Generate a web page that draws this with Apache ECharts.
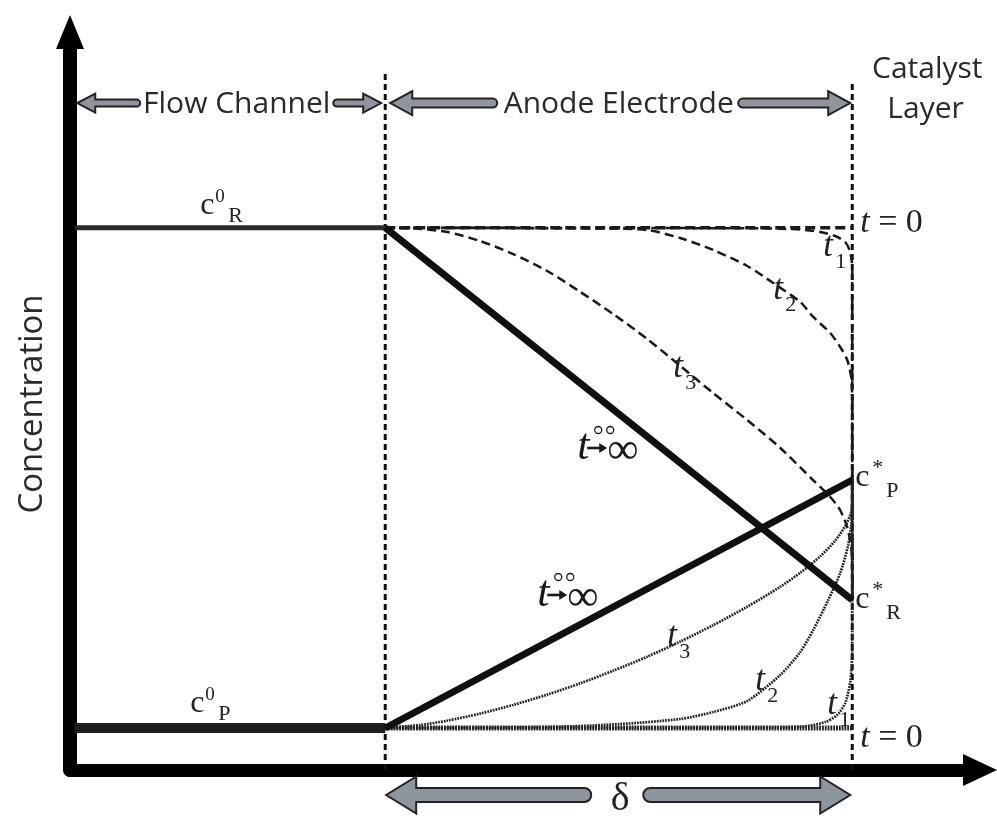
<!DOCTYPE html>
<html><head><meta charset="utf-8">
<script src="https://cdn.jsdelivr.net/npm/echarts@6/dist/echarts.min.js"></script>
<style>html,body{margin:0;padding:0;background:#fff}#c{width:997px;height:819px}</style>
</head><body><div id="c"></div>
<script>
// ---- DATA (depth: 0 = channel/electrode boundary, 1 = catalyst layer; concentration: c0_R = 100) ----
const flowR = [[-0.664, 100], [0, 100]];
const flowP = [[-0.664, 7.75], [0, 7.75]];
const boundaryLeft = [[0, 0], [0, 129.1]];
const boundaryRight = [[1, 0], [1, 127.25]];

const R_t0 = [[0, 100], [1, 100]];
const R_t1 = [[0, 100], [0.803, 99.9], [0.8887, 99.68], [0.9315, 99.22], [0.9636, 98.48], [0.985, 97.38], [0.9957, 95.53], [1, 92.58], [1, 31.35]];
const R_t2 = [[0, 100], [0.4604, 99.87], [0.561, 99.59], [0.6317, 98.11], [0.7024, 95.9], [0.7752, 92.95], [0.8308, 89.82], [0.8887, 86.31], [0.9165, 83.55], [0.9529, 80.6], [0.9743, 78.01], [0.9893, 75.61], [0.9979, 72.29], [1, 67.32], [1, 31.35]];
const R_t3 = [[0, 100], [0.075, 99.78], [0.133, 99.22], [0.203, 97.56], [0.274, 95.16], [0.347, 92.03], [0.418, 88.16], [0.488, 84.1], [0.561, 79.49], [0.632, 74.51], [0.702, 69.53], [0.775, 64.55], [0.846, 59.39], [0.916, 53.48], [0.953, 50.35], [0.974, 47.95], [0.989, 44.82], [0.998, 40.94], [1, 35.96], [1, 31.35]];
const R_inf = [[0, 100], [1, 31.35]];

const P_t0 = [[0, 7.75], [1, 7.75]];
const P_t1 = [[0, 7.75], [0.8458, 7.84], [0.9036, 8.11], [0.9422, 8.85], [0.9679, 10.14], [0.985, 12.36], [0.9957, 16.23], [1, 22.13], [1, 53.48]];
const P_t2 = [[0, 7.75], [0.3533, 7.93], [0.5032, 8.48], [0.6317, 9.41], [0.7024, 10.7], [0.7752, 12.73], [0.8458, 17.52], [0.8887, 21.76], [0.9165, 25.82], [0.9486, 31.35], [0.9743, 36.33], [0.9914, 41.5], [0.9979, 45.18], [1, 48.87], [1, 53.48]];
const P_t3 = [[0, 7.75], [0.075, 8.3], [0.133, 9.1], [0.203, 10.4], [0.274, 12.0], [0.347, 13.9], [0.418, 16.0], [0.488, 18.3], [0.561, 20.9], [0.632, 23.7], [0.702, 26.7], [0.775, 30.1], [0.846, 33.8], [0.889, 36.4], [0.9315, 39.4], [0.9636, 42.3], [0.985, 45.0], [0.998, 47.6], [1, 50.7], [1, 53.48]];
const P_inf = [[0, 7.75], [1, 53.48]];

// double-headed region arrows: [tail, tip, level, kind]
const regionArrows = [
  [-0.5246, -0.6595, 123.0, 0], [-0.1113, -0.0086, 123.0, 0],
  [0.2398, 0.0107, 123.0, 1], [0.7559, 0.9957, 123.0, 1],
  [0.4411, 0.0021, -4.61, 2], [0.5525, 0.9957, -4.61, 2]
];
const headerTexts = [
  {text: 'Flow Channel', x: -0.318, y: 122.8},
  {text: 'Anode Electrode', x: 0.5, y: 122.8},
  {text: 'Catalyst', x: 1.1606, y: 129.2},
  {text: 'Layer', x: 1.157, y: 121.8}
];
const cLabels = [
  {sup: '0', sub: 'R', x: -0.3961, y: 104.02},
  {sup: '0', sub: 'P', x: -0.4176, y: 12.17},
  {sup: '*', sub: 'P', x: 1.0064, y: 53.85},
  {sup: '*', sub: 'R', x: 1.0064, y: 31.35}
];
const tLabels = [
  {sub: '1', x: 0.9379, y: 96.45}, {sub: '2', x: 0.8308, y: 88.52}, {sub: '3', x: 0.6167, y: 74.14},
  {sub: '1', x: 0.9465, y: 11.99}, {sub: '2', x: 0.7923, y: 16.41}, {sub: '3', x: 0.6039, y: 24.53}
];
const infLabels = [{x: 0.4111, y: 59.57}, {x: 0.3255, y: 32.46}];
const t0Labels = [{x: 1.0171, y: 100.88}, {x: 1.0171, y: 5.9}];
const deltaLabel = [{text: 'δ', x: 0.5032, y: -5.53}];

// ---- CHART ----
const SERIF = '"Liberation Serif", "DejaVu Serif", serif';
const SANS = '"Open Sans", "Noto Sans", sans-serif';
const INK = '#161616';

function line(data, style, z) {
  return {type: 'line', data, showSymbol: false, symbol: 'none', smooth: false, clip: false,
    silent: true, animation: false, z: z || 2, lineStyle: Object.assign({color: INK}, style)};
}
function curve(data, style, z) {
  const s = line(data, style, z); s.smooth = 0.25; return s;
}
const dashR = {width: 2.5, type: [9, 5], color: '#1a1a1a'};
const dotP = {width: 2.7, type: [1.8, 1.0], color: '#262626'};

const arrowSizes = [
  {shaft: 3.5, head: 9.5, len: 18},
  {shaft: 4.5, head: 12, len: 22},
  {shaft: 7, head: 18.5, len: 30}
];

const chart = echarts.init(document.getElementById('c'), null, {renderer: 'canvas'});
chart.setOption({
  animation: false,
  backgroundColor: '#fff',
  grid: {left: 70, right: 21, top: 38, bottom: 49, containLabel: false, outerBoundsMode: 'none'},
  xAxis: {
    type: 'value', min: -0.675, max: 1.265,
    axisLine: {onZero: false, lineStyle: {color: '#000', width: 13},
      symbol: ['none', 'triangle'], symbolSize: [32, 34], symbolOffset: [0, 4]},
    axisTick: {show: false}, axisLabel: {show: false}, splitLine: {show: false}
  },
  yAxis: {
    type: 'value', min: 0, max: 135,
    name: 'Concentration', nameLocation: 'middle', nameRotate: 90, nameGap: 21,
    nameTextStyle: {fontFamily: SANS, fontSize: 33, color: '#2a2a2a'},
    axisLine: {onZero: false, lineStyle: {color: '#000', width: 14},
      symbol: ['none', 'triangle'], symbolSize: [28, 34], symbolOffset: [0, 6]},
    axisTick: {show: false}, axisLabel: {show: false}, splitLine: {show: false}
  },
  series: [
    line(boundaryLeft, {width: 3, type: [6, 4], color: '#111'}, 1),
    line(boundaryRight, {width: 3, type: [6, 4], color: '#111'}, 1),
    line(flowR, {width: 5, color: '#2a2a2a'}),
    line(flowP, {width: 10, color: '#1e1e1e'}),
    line(R_t0, {width: 3.5, type: [10, 5], color: '#1a1a1a'}),
    curve(R_t1, dashR), curve(R_t2, dashR), curve(R_t3, dashR),
    line(P_t0, {width: 5, type: [1.8, 1.0], color: '#222'}),
    curve(P_t1, dotP), curve(P_t2, dotP), curve(P_t3, dotP),
    line(R_inf, {width: 7, color: '#101010'}, 3),
    line(P_inf, {width: 7, color: '#101010'}, 3),
    {
      // rounded outer corner where the two axes meet (drawn beneath the axis lines)
      type: 'custom', coordinateSystem: 'cartesian2d', clip: false, silent: true, z: -1,
      data: [[-0.675, 0]],
      renderItem: function (params, api) {
        const p = api.coord([api.value(0), api.value(1)]);
        const x = p[0], y = p[1], r = 16;
        const d = 'M' + (x - 7) + ' ' + (y - 20) + ' L' + (x - 7) + ' ' + (y + 6.5 - r) +
          ' A' + r + ' ' + r + ' 0 0 0 ' + (x - 7 + r) + ' ' + (y + 6.5) +
          ' L' + (x + 30) + ' ' + (y + 6.5) + ' L' + (x + 30) + ' ' + (y - 5) +
          ' L' + (x + 5) + ' ' + (y - 5) + ' L' + (x + 5) + ' ' + (y - 20) + ' Z';
        return {type: 'path', shape: {pathData: d}, style: {fill: '#000'}};
      }
    },
    {
      type: 'custom', coordinateSystem: 'cartesian2d', clip: false, silent: true, z: 5,
      data: regionArrows,
      renderItem: function (params, api) {
        const tail = api.coord([api.value(0), api.value(2)]);
        const tip = api.coord([api.value(1), api.value(2)]);
        const sz = arrowSizes[api.value(3)];
        const dir = tip[0] > tail[0] ? 1 : -1;
        const y = tip[1], s = sz.shaft;
        const bx = tip[0] - dir * sz.len;
        const tx = tail[0] + dir * s;
        const d = 'M' + tx + ' ' + (y - s) + ' L' + bx + ' ' + (y - s) + ' L' + bx + ' ' + (y - sz.head) +
          ' L' + tip[0] + ' ' + y + ' L' + bx + ' ' + (y + sz.head) + ' L' + bx + ' ' + (y + s) +
          ' L' + tx + ' ' + (y + s) + ' A' + s + ' ' + s + ' 0 0 ' + (dir > 0 ? 1 : 0) + ' ' + tx + ' ' + (y - s) + ' Z';
        return {type: 'path', shape: {pathData: d},
          style: {fill: '#8e959c', stroke: '#232323', lineWidth: 2, lineJoin: 'miter'}};
      }
    },
    {
      type: 'custom', coordinateSystem: 'cartesian2d', clip: false, silent: true, z: 6,
      data: headerTexts.map(d => [d.x, d.y]),
      renderItem: function (params, api) {
        const d = headerTexts[params.dataIndex];
        const p = api.coord([d.x, d.y]);
        return {type: 'text', x: p[0], y: p[1], style: {text: d.text, fontFamily: SANS, fontSize: 30,
          fill: '#2a2a2a', align: 'center', verticalAlign: 'middle'}};
      }
    },
    {
      type: 'custom', coordinateSystem: 'cartesian2d', clip: false, silent: true, z: 6,
      data: cLabels.map(d => [d.x, d.y]),
      renderItem: function (params, api) {
        const d = cLabels[params.dataIndex];
        const p = api.coord([d.x, d.y]);
        const star = d.sup === '*';
        return {type: 'group', children: [
          {type: 'text', x: p[0], y: p[1], style: {text: 'c', fontFamily: SERIF, fontSize: 32, fill: '#222', align: 'left', verticalAlign: 'middle'}},
          {type: 'text', x: p[0] + (star ? 17 : 15), y: p[1] + (star ? -10 : -9), style: {text: d.sup, fontFamily: SERIF, fontSize: star ? 22 : 19, fill: '#222', align: 'left', verticalAlign: 'middle'}},
          {type: 'text', x: p[0] + (star ? 31 : 28), y: p[1] + (star ? 13 : 10), style: {text: d.sub, fontFamily: SERIF, fontSize: 22, fill: '#222', align: 'left', verticalAlign: 'middle'}}
        ]};
      }
    },
    {
      type: 'custom', coordinateSystem: 'cartesian2d', clip: false, silent: true, z: 6,
      data: tLabels.map(d => [d.x, d.y]),
      renderItem: function (params, api) {
        const d = tLabels[params.dataIndex];
        const p = api.coord([d.x, d.y]);
        return {type: 'group', children: [
          {type: 'text', x: p[0], y: p[1], style: {text: 't', fontFamily: SERIF, fontStyle: 'italic', fontSize: 35, fill: '#222', align: 'left', verticalAlign: 'middle'}},
          {type: 'text', x: p[0] + 12, y: p[1] + 15, style: {text: d.sub, fontFamily: SERIF, fontSize: 22, fill: '#222', align: 'left', verticalAlign: 'middle'}}
        ]};
      }
    },
    {
      type: 'custom', coordinateSystem: 'cartesian2d', clip: false, silent: true, z: 6,
      data: infLabels.map(d => [d.x, d.y]),
      renderItem: function (params, api) {
        const d = infLabels[params.dataIndex];
        const p = api.coord([d.x, d.y]);
        const x = p[0], y = p[1];
        return {type: 'group', children: [
          {type: 'text', x: x, y: y, style: {text: 't', fontFamily: SERIF, fontStyle: 'italic', fontSize: 44, fill: '#1a1a1a', align: 'left', verticalAlign: 'middle'}},
          {type: 'line', shape: {x1: x + 10, y1: y + 1, x2: x + 24, y2: y + 1}, style: {stroke: '#1a1a1a', lineWidth: 2.6}},
          {type: 'polygon', shape: {points: [[x + 22, y - 4], [x + 30, y + 1], [x + 22, y + 6]]}, style: {fill: '#1a1a1a'}},
          {type: 'circle', shape: {cx: x + 21, cy: y - 17, r: 3.5}, style: {fill: 'none', stroke: '#1a1a1a', lineWidth: 1.3}},
          {type: 'circle', shape: {cx: x + 33, cy: y - 17, r: 3.5}, style: {fill: 'none', stroke: '#1a1a1a', lineWidth: 1.3}},
          {type: 'text', x: x + 30, y: y + 4, style: {text: '∞', fontFamily: SERIF, fontSize: 44, fill: '#1a1a1a', align: 'left', verticalAlign: 'middle'}}
        ]};
      }
    },
    {
      type: 'custom', coordinateSystem: 'cartesian2d', clip: false, silent: true, z: 6,
      data: t0Labels.map(d => [d.x, d.y]),
      renderItem: function (params, api) {
        const d = t0Labels[params.dataIndex];
        const p = api.coord([d.x, d.y]);
        return {type: 'text', x: p[0], y: p[1], style: {text: '{i|t} = 0', fontFamily: SERIF, fontSize: 34, fill: '#222',
          align: 'left', verticalAlign: 'middle', rich: {i: {fontFamily: SERIF, fontStyle: 'italic', fontSize: 34, fill: '#222'}}}};
      }
    },
    {
      type: 'custom', coordinateSystem: 'cartesian2d', clip: false, silent: true, z: 6,
      data: deltaLabel.map(d => [d.x, d.y]),
      renderItem: function (params, api) {
        const d = deltaLabel[params.dataIndex];
        const p = api.coord([d.x, d.y]);
        return {type: 'text', x: p[0], y: p[1], style: {text: d.text, fontFamily: SERIF, fontSize: 40, fill: '#222', align: 'center', verticalAlign: 'middle'}};
      }
    }
  ]
});
</script></body></html>
